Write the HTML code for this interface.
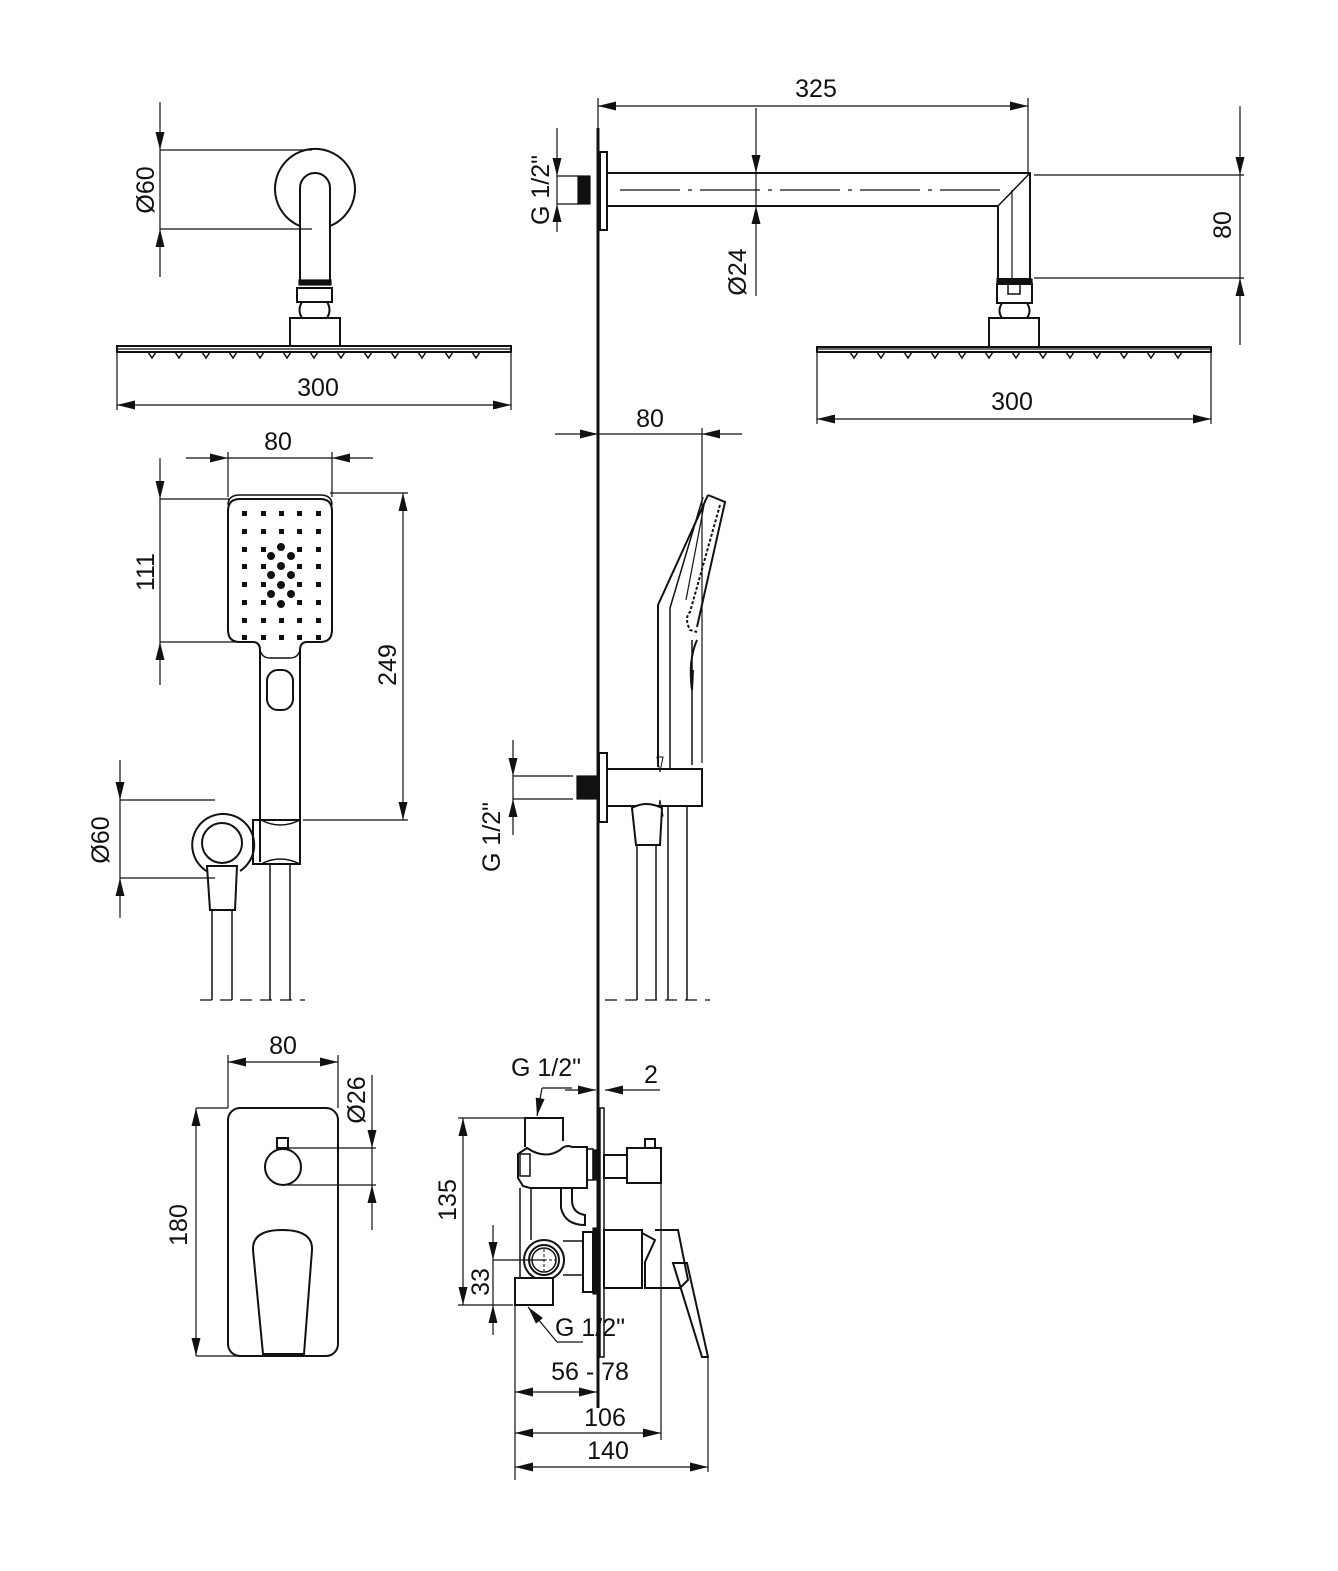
<!DOCTYPE html>
<html><head><meta charset="utf-8"><style>
html,body{margin:0;padding:0;background:#fff}
svg{display:block}
text{font-family:"Liberation Sans Narrow","Liberation Sans",sans-serif;font-size:25px;fill:#111}
</style></head><body>
<svg width="1338" height="1571" viewBox="0 0 1338 1571" xmlns="http://www.w3.org/2000/svg">
<defs>
<marker id="a" markerUnits="userSpaceOnUse" markerWidth="20" markerHeight="10" refX="18" refY="5" orient="auto-start-reverse" viewBox="0 0 20 10"><path d="M0,0.5 L18,5 L0,9.5z" fill="#111"/></marker>
</defs>
<g stroke="#111" stroke-width="1.2" fill="none">

<line x1="160" y1="102" x2="160" y2="150" marker-end="url(#a)"/>
<line x1="160" y1="150" x2="160" y2="229"/>
<line x1="160" y1="277" x2="160" y2="229" marker-end="url(#a)"/>
<line x1="160" y1="150" x2="312" y2="150"/>
<line x1="160" y1="229" x2="312" y2="229"/>
<path d="M300,226 A40,40 0 1 1 330,226" stroke-width="2"/>
<path d="M300,280 L300,188 A15,15 0 0 1 330,188 L330,280" stroke-width="2"/>
<rect x="299" y="280" width="32" height="5" fill="#111"/>
<rect x="297" y="288" width="35" height="14" stroke-width="2"/>
<path d="M302,302 Q297,310 302,318 M327,302 Q332,310 327,318" stroke-width="2"/>
<rect x="290" y="318" width="50" height="28" stroke-width="2"/>
<rect x="117" y="346" width="394" height="6" stroke-width="2"/>
<line x1="117" y1="349" x2="511" y2="349"/>
<g stroke-width="1.5">
<path d="M148,352 l4,6 l4,-6 M175,352 l4,6 l4,-6 M202,352 l4,6 l4,-6 M229,352 l4,6 l4,-6 M256,352 l4,6 l4,-6 M283,352 l4,6 l4,-6 M310,352 l4,6 l4,-6 M337,352 l4,6 l4,-6 M364,352 l4,6 l4,-6 M391,352 l4,6 l4,-6 M418,352 l4,6 l4,-6 M445,352 l4,6 l4,-6 M472,352 l4,6 l4,-6"/>
</g>
<line x1="117" y1="352" x2="117" y2="410"/>
<line x1="511" y1="352" x2="511" y2="410"/>
<line x1="117" y1="405" x2="511" y2="405" marker-start="url(#a)" marker-end="url(#a)"/>

<line x1="598" y1="128" x2="598" y2="1408" stroke-width="3"/>

<line x1="598" y1="98" x2="598" y2="128"/>
<line x1="1028" y1="98" x2="1028" y2="175"/>
<line x1="598" y1="106" x2="1028" y2="106" marker-start="url(#a)" marker-end="url(#a)"/>
<line x1="756" y1="108" x2="756" y2="173" marker-end="url(#a)"/>
<line x1="756" y1="173" x2="756" y2="206"/>
<line x1="756" y1="296" x2="756" y2="206" marker-end="url(#a)"/>
<line x1="557" y1="128" x2="557" y2="176" marker-end="url(#a)"/>
<line x1="557" y1="176" x2="557" y2="204"/>
<line x1="557" y1="232" x2="557" y2="204" marker-end="url(#a)"/>
<line x1="557" y1="176" x2="580" y2="176"/>
<line x1="557" y1="204" x2="580" y2="204"/>
<rect x="578" y="176" width="12" height="28" fill="#111"/>
<rect x="600" y="152" width="7" height="78" stroke-width="2"/>
<path d="M607,173 L1030,173 L1030,279 L998,279 L998,206 L607,206" stroke-width="2"/>
<line x1="998" y1="206" x2="1030" y2="173" stroke-width="1.5"/>
<line x1="1012" y1="190" x2="1012" y2="279"/>
<line x1="620" y1="190" x2="1005" y2="190" stroke-dasharray="60,8,4,8"/>
<rect x="997" y="279" width="35" height="5" fill="#111"/>
<rect x="997" y="284" width="35" height="19" stroke-width="2"/>
<rect x="1008" y="284" width="12" height="10" stroke-width="1.5"/>
<path d="M1002,303 Q997,311 1002,318 M1027,303 Q1032,311 1027,318" stroke-width="2"/>
<rect x="989" y="318" width="50" height="29" stroke-width="2"/>
<rect x="817" y="347" width="394" height="5" stroke-width="2"/>
<line x1="817" y1="349" x2="1211" y2="349"/>
<path d="M850,352 l4,6 l4,-6 M877,352 l4,6 l4,-6 M904,352 l4,6 l4,-6 M931,352 l4,6 l4,-6 M958,352 l4,6 l4,-6 M985,352 l4,6 l4,-6 M1012,352 l4,6 l4,-6 M1039,352 l4,6 l4,-6 M1066,352 l4,6 l4,-6 M1093,352 l4,6 l4,-6 M1120,352 l4,6 l4,-6 M1147,352 l4,6 l4,-6 M1174,352 l4,6 l4,-6" stroke-width="1.5"/>
<line x1="817" y1="352" x2="817" y2="424"/>
<line x1="1211" y1="352" x2="1211" y2="424"/>
<line x1="817" y1="419" x2="1211" y2="419" marker-start="url(#a)" marker-end="url(#a)"/>
<line x1="1034" y1="175" x2="1244" y2="175"/>
<line x1="1034" y1="278" x2="1244" y2="278"/>
<line x1="1240" y1="106" x2="1240" y2="175" marker-end="url(#a)"/>
<line x1="1240" y1="175" x2="1240" y2="278"/>
<line x1="1240" y1="345" x2="1240" y2="278" marker-end="url(#a)"/>

<line x1="186" y1="458" x2="228" y2="458" marker-end="url(#a)"/>
<line x1="228" y1="458" x2="332" y2="458"/>
<line x1="373" y1="458" x2="332" y2="458" marker-end="url(#a)"/>
<line x1="228" y1="452" x2="228" y2="497"/>
<line x1="332" y1="452" x2="332" y2="497"/>
<path d="M240,495 L320,495 Q332,495 332,505 M228,505 Q228,495 240,495" stroke-width="1.5"/>
<path d="M240,499 L320,499 Q332,499 332,511 L332,630 Q332,642 320,642 L306,642 Q300,643 300,650 L300,862" stroke-width="2"/>
<path d="M260,862 L260,650 Q260,643 254,642 L240,642 Q228,642 228,630 L228,511 Q228,499 240,499" stroke-width="2"/>
<path d="M260,650 Q262,658 270,658 L290,658 Q298,658 300,650" stroke-width="1.5"/>
<rect x="267" y="670" width="26" height="40" rx="11" stroke-width="2"/>
<line x1="160" y1="458" x2="160" y2="499" marker-end="url(#a)"/>
<line x1="160" y1="499" x2="160" y2="642"/>
<line x1="160" y1="685" x2="160" y2="642" marker-end="url(#a)"/>
<line x1="160" y1="499" x2="230" y2="499"/>
<line x1="160" y1="642" x2="240" y2="642"/>
<line x1="330" y1="493" x2="408" y2="493"/>
<line x1="303" y1="820" x2="408" y2="820"/>
<line x1="403" y1="493" x2="403" y2="820" marker-start="url(#a)" marker-end="url(#a)"/>
<path d="M210,873 A31,31 0 1 1 240,871" stroke-width="2"/>
<circle cx="222" cy="843" r="20" stroke-width="2"/>
<rect x="253" y="820" width="47" height="44" stroke-width="2"/>
<path d="M261,820 Q280,830 300,820 M261,864 Q280,854 300,864" stroke-width="1.5"/>
<path d="M207,866 L237,866 L235,910 L210,910 Z" fill="#fff" stroke-width="2"/>
<line x1="212" y1="910" x2="212" y2="1000" stroke-width="1.5"/>
<line x1="232" y1="910" x2="232" y2="1000" stroke-width="1.5"/>
<line x1="270" y1="864" x2="270" y2="1000" stroke-width="1.5"/>
<line x1="290" y1="864" x2="290" y2="1000" stroke-width="1.5"/>
<line x1="200" y1="1000" x2="305" y2="1000" stroke-dasharray="12,8"/>
<line x1="120" y1="760" x2="120" y2="800" marker-end="url(#a)"/>
<line x1="120" y1="800" x2="120" y2="878"/>
<line x1="120" y1="918" x2="120" y2="878" marker-end="url(#a)"/>
<line x1="120" y1="800" x2="215" y2="800"/>
<line x1="120" y1="878" x2="215" y2="878"/>
</g>
<g fill="#111">
<rect x="242" y="511" width="5" height="5"/><rect x="261" y="511" width="5" height="5"/><rect x="279" y="511" width="5" height="5"/><rect x="297" y="511" width="5" height="5"/><rect x="316" y="511" width="5" height="5"/>
<rect x="242" y="529" width="5" height="5"/><rect x="261" y="529" width="5" height="5"/><rect x="279" y="529" width="5" height="5"/><rect x="297" y="529" width="5" height="5"/><rect x="316" y="529" width="5" height="5"/>
<rect x="242" y="547" width="5" height="5"/><rect x="261" y="547" width="5" height="5"/><rect x="297" y="547" width="5" height="5"/><rect x="316" y="547" width="5" height="5"/>
<rect x="242" y="564" width="5" height="5"/><rect x="261" y="564" width="5" height="5"/><rect x="297" y="564" width="5" height="5"/><rect x="316" y="564" width="5" height="5"/>
<rect x="242" y="582" width="5" height="5"/><rect x="261" y="582" width="5" height="5"/><rect x="297" y="582" width="5" height="5"/><rect x="316" y="582" width="5" height="5"/>
<rect x="242" y="600" width="5" height="5"/><rect x="261" y="600" width="5" height="5"/><rect x="297" y="600" width="5" height="5"/><rect x="316" y="600" width="5" height="5"/>
<rect x="242" y="618" width="5" height="5"/><rect x="261" y="618" width="5" height="5"/><rect x="279" y="618" width="5" height="5"/><rect x="297" y="618" width="5" height="5"/><rect x="316" y="618" width="5" height="5"/>
<rect x="242" y="635" width="5" height="5"/><rect x="261" y="635" width="5" height="5"/><rect x="279" y="635" width="5" height="5"/><rect x="297" y="635" width="5" height="5"/><rect x="316" y="635" width="5" height="5"/>
<circle cx="281" cy="547" r="4"/><circle cx="281" cy="566" r="4"/><circle cx="281" cy="585" r="4"/><circle cx="281" cy="604" r="4"/>
<circle cx="271" cy="556" r="4"/><circle cx="291" cy="556" r="4"/><circle cx="271" cy="575" r="4"/><circle cx="291" cy="575" r="4"/><circle cx="271" cy="594" r="4"/><circle cx="291" cy="594" r="4"/>
</g>

<g stroke="#111" stroke-width="1.2" fill="none">
<line x1="555" y1="434" x2="598" y2="434" marker-end="url(#a)"/>
<line x1="742" y1="434" x2="702" y2="434" marker-end="url(#a)"/>
<line x1="598" y1="434" x2="702" y2="434"/>
<line x1="702" y1="428" x2="702" y2="763"/>
<path d="M708,495 L725,502 L697,627" stroke-width="2"/>
<path d="M708,495 L658,605 L658,767" stroke-width="2"/>
<path d="M703,497 L670,608 L670,770" stroke-width="1.5"/>
<path d="M705,500 L686,600" stroke-width="1.2"/>
<path d="M720,505 L690,612 Q684,618 690,630 L697,632" stroke-width="2" stroke-dasharray="3,2"/>
<path d="M697,640 Q688,660 692,690 L693,670" stroke-width="2"/>
<line x1="692" y1="640" x2="692" y2="765" stroke-width="1.5"/>
<path d="M657,757 L663,757 L660,772 Z M657,816 L663,816 L660,800 Z" stroke-width="1"/>
<rect x="599" y="753" width="8" height="69" stroke-width="2"/>
<rect x="607" y="769" width="95" height="37" stroke-width="2"/>
<rect x="577" y="776" width="22" height="23" fill="#111"/>
<line x1="513" y1="740" x2="513" y2="776" marker-end="url(#a)"/>
<line x1="513" y1="776" x2="513" y2="799"/>
<line x1="513" y1="835" x2="513" y2="799" marker-end="url(#a)"/>
<line x1="513" y1="776" x2="573" y2="776"/>
<line x1="513" y1="799" x2="573" y2="799"/>
<path d="M632,808 Q646,800 662,808 L660,845 L636,845 Z" fill="#fff" stroke-width="2"/>
<line x1="637" y1="845" x2="637" y2="1000" stroke-width="1.5"/>
<line x1="656" y1="845" x2="656" y2="1000" stroke-width="1.5"/>
<line x1="668" y1="806" x2="668" y2="1000" stroke-width="1.5"/>
<line x1="687" y1="806" x2="687" y2="1000" stroke-width="1.5"/>
<line x1="605" y1="1000" x2="710" y2="1000" stroke-dasharray="12,8"/>

<line x1="228" y1="1055" x2="228" y2="1108"/>
<line x1="338" y1="1055" x2="338" y2="1108"/>
<line x1="228" y1="1062" x2="338" y2="1062" marker-start="url(#a)" marker-end="url(#a)"/>
<rect x="228" y="1108" width="110" height="248" rx="12" stroke-width="2"/>
<rect x="277" y="1138" width="11" height="10" stroke-width="2"/>
<circle cx="283" cy="1167" r="18" stroke-width="2"/>
<path d="M263,1354 L253,1250 Q252,1230 282,1230 Q313,1230 312,1250 L304,1354 Z" stroke-width="2"/>
<line x1="196" y1="1108" x2="228" y2="1108"/>
<line x1="196" y1="1356" x2="240" y2="1356"/>
<line x1="196" y1="1108" x2="196" y2="1356" marker-start="url(#a)" marker-end="url(#a)"/>
<line x1="288" y1="1148" x2="376" y2="1148"/>
<line x1="283" y1="1185" x2="376" y2="1185"/>
<line x1="372" y1="1075" x2="372" y2="1148" marker-end="url(#a)"/>
<line x1="372" y1="1148" x2="372" y2="1185"/>
<line x1="372" y1="1230" x2="372" y2="1185" marker-end="url(#a)"/>

<line x1="463" y1="1118" x2="463" y2="1305" marker-start="url(#a)" marker-end="url(#a)"/>
<line x1="458" y1="1118" x2="525" y2="1118"/>
<line x1="458" y1="1305" x2="513" y2="1305"/>
<line x1="493" y1="1225" x2="493" y2="1260" marker-end="url(#a)"/>
<line x1="493" y1="1260" x2="493" y2="1305"/>
<line x1="493" y1="1335" x2="493" y2="1305" marker-end="url(#a)"/>
<line x1="493" y1="1260" x2="545" y2="1260"/>
<path d="M525,1147 L525,1118 L563,1118 L563,1141" stroke-width="2"/>
<path d="M527,1148 Q545,1160 560,1150 Q566,1144 572,1147 L587,1147 L587,1188 L530,1188 L523,1186 L518,1178 L518,1154 Z" stroke-width="2"/>
<rect x="520" y="1154" width="10" height="22" stroke-width="1.5"/>
<rect x="587" y="1149" width="6" height="31" stroke-width="1.5"/>
<rect x="593" y="1150" width="5" height="30" fill="#111"/>
<rect x="600" y="1108" width="4" height="249" stroke-width="1.5"/>
<rect x="604" y="1155" width="23" height="23" stroke-width="2"/>
<rect x="627" y="1148" width="34" height="35" stroke-width="2"/>
<rect x="645" y="1139" width="10" height="9" stroke-width="2"/>
<path d="M561,1188 L561,1208 Q565,1225 585,1225 L585,1215 Q572,1213 572,1200 L572,1188" stroke-width="2"/>
<line x1="520" y1="1188" x2="520" y2="1278" stroke-width="1.5"/>
<line x1="531" y1="1188" x2="531" y2="1240" stroke-width="1.5"/>
<line x1="563" y1="1241" x2="583" y2="1241" stroke-width="1.5"/>
<line x1="563" y1="1275" x2="583" y2="1275" stroke-width="1.5"/>
<circle cx="544" cy="1260" r="20" stroke-width="2"/>
<circle cx="544" cy="1260" r="15" stroke-width="2"/>
<circle cx="544" cy="1260" r="12" stroke-width="1.5"/>
<line x1="534" y1="1260" x2="556" y2="1260" stroke-dasharray="3,2" stroke-width="1"/>
<line x1="544" y1="1249" x2="544" y2="1271" stroke-dasharray="3,2" stroke-width="1"/>
<path d="M515,1305 L515,1278 L553,1278 L553,1305 Z" fill="#fff" stroke-width="2"/>
<rect x="583" y="1232" width="10" height="60" stroke-width="2"/>
<rect x="593" y="1228" width="5" height="66" fill="#111"/>
<rect x="604" y="1230" width="38" height="58" stroke-width="2"/>
<path d="M642,1233 L655,1240 L645,1262 L645,1288 L680,1288 L688,1280 L678,1230 L655,1230" stroke-width="2"/>
<path d="M673,1263 L687,1263 L708,1357 L702,1357 Z" stroke-width="2"/>
<path d="M675,1268 L700,1350" stroke-width="1"/>
<line x1="515" y1="1305" x2="515" y2="1480"/>
<line x1="661" y1="1183" x2="661" y2="1440"/>
<line x1="708" y1="1357" x2="708" y2="1472"/>
<line x1="515" y1="1392" x2="597" y2="1392" marker-start="url(#a)" marker-end="url(#a)"/>
<line x1="515" y1="1433" x2="661" y2="1433" marker-start="url(#a)" marker-end="url(#a)"/>
<line x1="515" y1="1467" x2="708" y2="1467" marker-start="url(#a)" marker-end="url(#a)"/>
<line x1="565" y1="1090" x2="596" y2="1090" marker-end="url(#a)"/>
<line x1="660" y1="1090" x2="605" y2="1090" marker-end="url(#a)"/>
<path d="M572,1088 L542,1088" />
<line x1="542" y1="1088" x2="537" y2="1116" marker-end="url(#a)"/>
<path d="M583,1342 L557,1342"/>
<line x1="557" y1="1342" x2="528" y2="1307" marker-end="url(#a)"/>
</g>

<text x="318" y="396" text-anchor="middle">300</text>
<text x="816" y="97" text-anchor="middle">325</text>
<text x="1012" y="410" text-anchor="middle">300</text>
<text x="650" y="427" text-anchor="middle">80</text>
<text x="278" y="450" text-anchor="middle">80</text>
<text x="283" y="1054" text-anchor="middle">80</text>
<text x="651" y="1083" text-anchor="middle">2</text>
<text x="546" y="1076" text-anchor="middle">G 1/2"</text>
<text x="590" y="1336" text-anchor="middle">G 1/2"</text>
<text x="590" y="1380" text-anchor="middle">56 - 78</text>
<text x="605" y="1426" text-anchor="middle">106</text>
<text x="608" y="1459" text-anchor="middle">140</text>
<text transform="translate(154,190) rotate(-90)" text-anchor="middle">Ø60</text>
<text transform="translate(549,190) rotate(-90)" text-anchor="middle">G 1/2"</text>
<text transform="translate(746,272) rotate(-90)" text-anchor="middle">Ø24</text>
<text transform="translate(1231,225) rotate(-90)" text-anchor="middle">80</text>
<text transform="translate(154,572) rotate(-90)" text-anchor="middle">111</text>
<text transform="translate(396,665) rotate(-90)" text-anchor="middle">249</text>
<text transform="translate(109,840) rotate(-90)" text-anchor="middle">Ø60</text>
<text transform="translate(500,837) rotate(-90)" text-anchor="middle">G 1/2"</text>
<text transform="translate(187,1225) rotate(-90)" text-anchor="middle">180</text>
<text transform="translate(365,1100) rotate(-90)" text-anchor="middle">Ø26</text>
<text transform="translate(456,1200) rotate(-90)" text-anchor="middle">135</text>
<text transform="translate(489,1282) rotate(-90)" text-anchor="middle">33</text>
</svg>
</body></html>
